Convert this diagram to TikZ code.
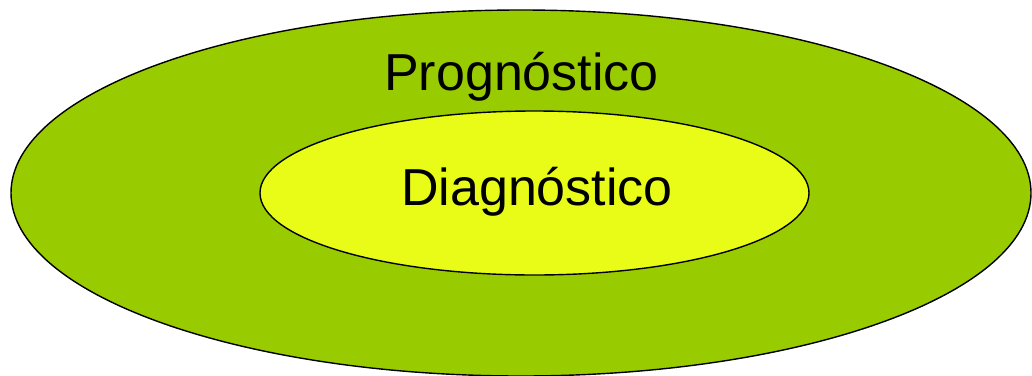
\documentclass[tikz,border=0pt]{standalone}
\usepackage{fontspec}
\setmainfont{Liberation Sans}
\usepackage{tikz}
\usetikzlibrary{shapes}
\usetikzlibrary{positioning}
\definecolor{proggreen}{HTML}{99CC00}
\definecolor{diagyellow}{HTML}{E8FC18}
\tikzstyle{outerset} = [ellipse, draw, fill=proggreen, line width=1.4pt,
    minimum width=1020pt, minimum height=366pt, inner sep=0pt]
\tikzstyle{innerset} = [ellipse, draw, fill=diagyellow, line width=1.4pt,
    minimum width=549pt, minimum height=164pt, inner sep=0pt]
\tikzstyle{setname} = [font=\fontsize{52}{60}\selectfont, inner sep=0pt, anchor=base]

\begin{document}
\begin{tikzpicture}[x=1pt,y=-1pt]
    \useasboundingbox (0,0) rectangle (1032,375);
    % Place sets
    \node [outerset] (prog) at (521,193) {};
    \node [innerset] (diag) at (534.5,193) {};
    % Place names
    \node [setname] (progname) at (521.5,90) {Prognóstico};
    \node [setname] (diagname) at (537,205) {Diagnóstico};
\end{tikzpicture}
\end{document}
